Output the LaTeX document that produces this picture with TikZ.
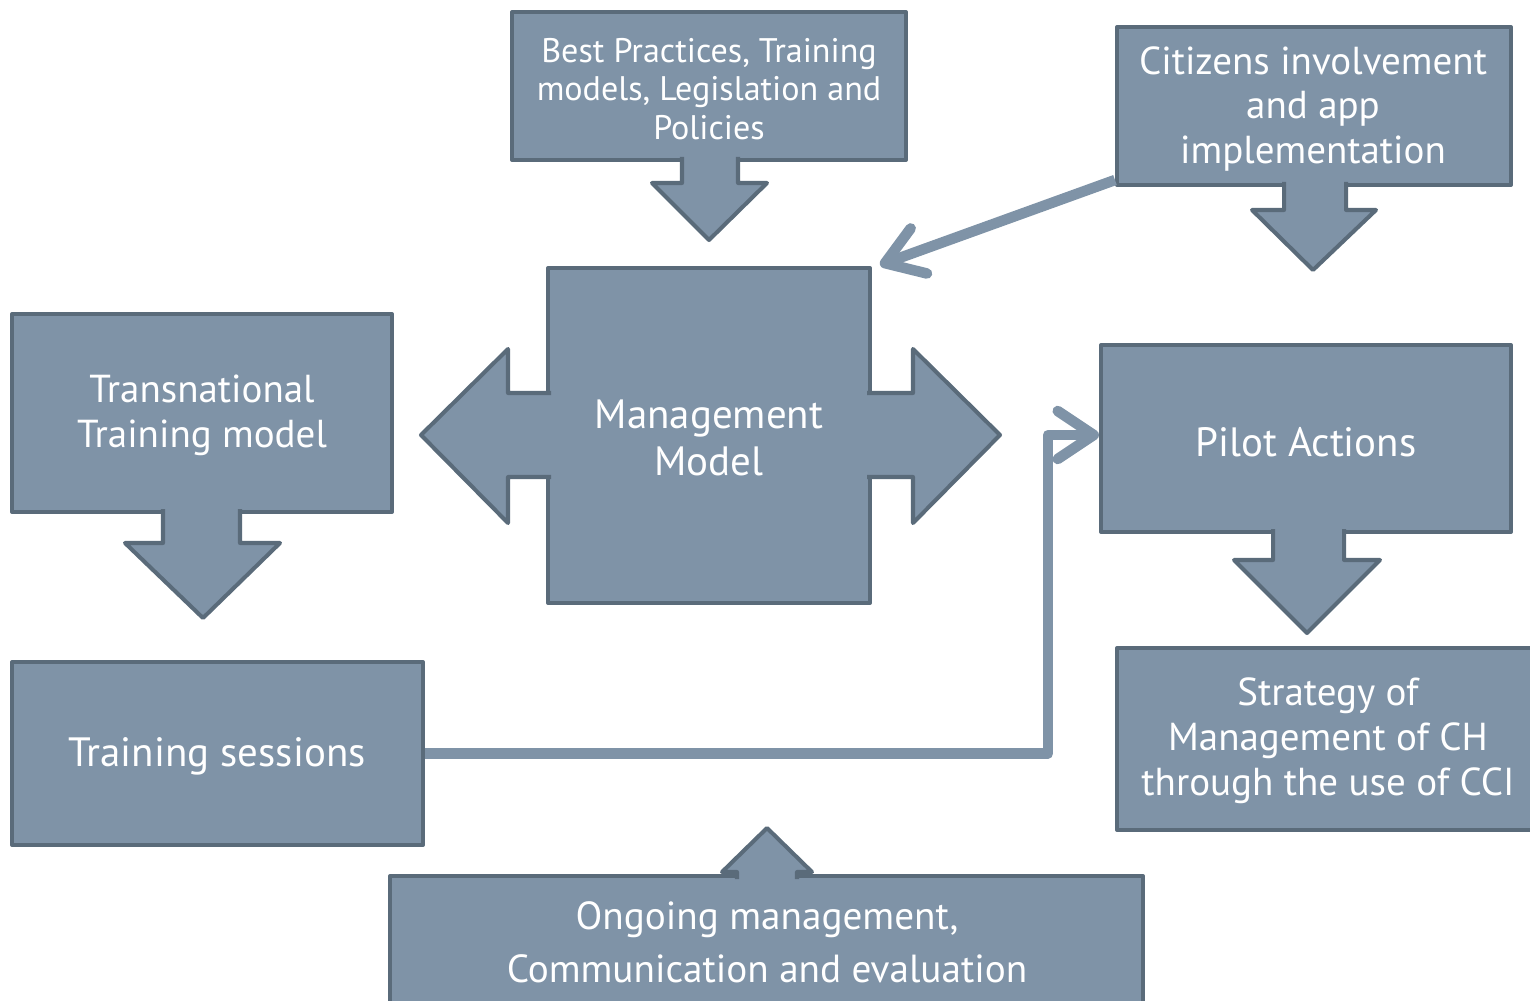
\documentclass[tikz,border=0pt]{standalone}
\usepackage{fontspec}
\setmainfont{PT Sans}
\usetikzlibrary{fit,arrows.meta}
\definecolor{boxfill}{HTML}{7F93A7}
\definecolor{boxline}{HTML}{5A6B7A}
\begin{document}
\begin{tikzpicture}[x=0.02cm,y=-0.02cm, line join=round,
	box/.style={fill=boxfill, draw=boxline, line width=2.3pt, inner sep=0pt},
	boxtext/.style={text=white, align=center, inner sep=0pt},
	tail/.style={fill=boxfill, draw=boxline, line width=2.3pt},
	link/.style={draw=boxfill, line width=6pt, -{Straight Barb[length=0.72cm, width=0.96cm, round]}},
	big/.style={font=\fontsize{22.2}{25.5}\selectfont},
	bigger/.style={font=\fontsize{23.3}{27.2}\selectfont},
	small/.style={font=\fontsize{19.4}{22}\selectfont}]
	\useasboundingbox (0,0) rectangle (1530,1000);
	
	% boxes
	\node[box, fit={(512,12) (906,160)}] (best) {};
	\node[box, fit={(1117,27) (1511,185)}] (citizens) {};
	\node[box, fit={(548,268) (870,603)}] (mgmt) {};
	\node[box, fit={(12,314) (392,512)}] (trans) {};
	\node[box, fit={(1101,345) (1511,532)}] (pilot) {};
	\node[box, fit={(12,662) (423,845)}] (sessions) {};
	\node[box, fit={(1117,648) (1534,830)}] (strategy) {};
	\node[box, fit={(390,876) (1143,1010)}] (ongoing) {};
	
	% arrow parts of the boxes
	\path[tail] (682,157)--(682,183)--(652,183)--(709,240)--(767,183)--(738,183)--(738,157);
	\path[tail] (1284,182)--(1284,210)--(1252,210)--(1313,270)--(1376,210)--(1346,210)--(1346,182);
	\path[tail] (163,509)--(163,543)--(125,543)--(203,618)--(280,543)--(240,543)--(240,509);
	\path[tail] (1273,529)--(1273,560)--(1234,560)--(1307,633)--(1380,560)--(1344,560)--(1344,529);
	\path[tail] (551,393)--(508,393)--(508,349)--(421,435)--(508,523)--(508,477)--(551,477);
	\path[tail] (867,393)--(913,393)--(913,349)--(1000,435)--(913,523)--(913,477)--(867,477);
	\path[tail] (737,879)--(737,872)--(722,872)--(767,828)--(812,872)--(797,872)--(797,879);
	
	% texts
	\node[boxtext, small] (besttext) at (709,89) {Best Practices, Training\\models, Legislation and\\Policies};
	\node[boxtext, big] (citizenstext) at (1313,109) {Citizens involvement\\and app\\implementation};
	\node[boxtext, bigger] (mgmttext) at (709,438) {Management\\Model};
	\node[boxtext, big] (transtext) at (202,415) {Transnational\\Training model};
	\node[boxtext, bigger] (pilottext) at (1306,442) {Pilot Actions};
	\node[boxtext, bigger] (sessionstext) at (217,756) {Training sessions};
	\node[boxtext, big] (strategytext) at (1328,741) {Strategy of\\Management of CH\\through the use of CCI};
	\node[boxtext, font=\fontsize{22.3}{30}\selectfont] (ongoingtext) at (767,942) {Ongoing management,\\Communication and evaluation};
	
	% connectors
	\draw[link] (sessions.east) -| (1048,435) -- (pilot.west |- 0,435);
	\draw[link, line cap=butt] ([yshift=0.14cm]citizens.south west) -- ([shift={(0.16cm,0.02cm)}]mgmt.north east);
\end{tikzpicture}
\end{document}
